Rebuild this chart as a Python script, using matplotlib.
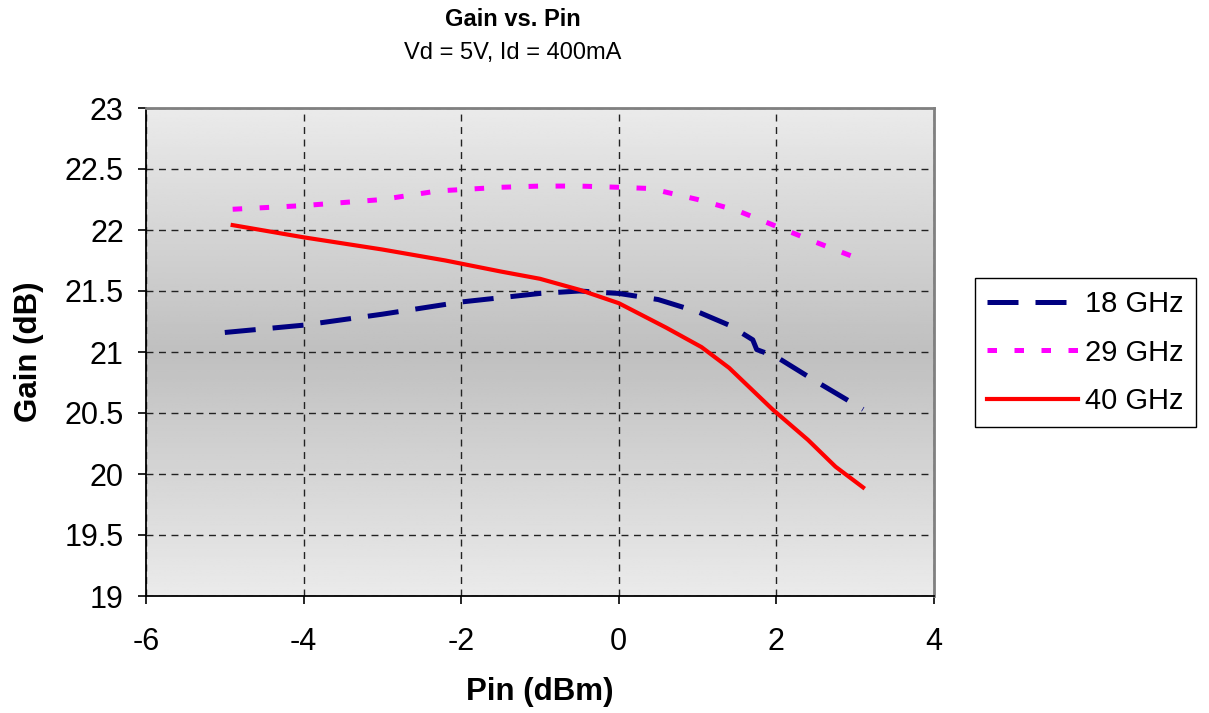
import matplotlib
matplotlib.use("Agg")
import matplotlib.pyplot as plt
import numpy as np

plt.rcParams["font.family"] = ["Liberation Sans", "DejaVu Sans"]
plt.rcParams["axes.unicode_minus"] = False

# data
pin_18 = [-5.0, -4.0, -3.0, -2.0, -1.0, -0.5, 0.0, 0.5, 1.0, 1.4, 1.7, 1.75, 2.0, 2.5, 3.1]
gain_18 = [21.16, 21.22, 21.31, 21.41, 21.48, 21.50, 21.48, 21.43, 21.33, 21.22, 21.10, 21.02, 20.96, 20.76, 20.53]

pin_29 = [-4.9, -4.0, -3.0, -2.3, -1.5, -1.0, -0.5, 0.0, 0.4, 1.0, 1.5, 2.0, 2.5, 3.1]
gain_29 = [22.17, 22.20, 22.25, 22.32, 22.35, 22.36, 22.36, 22.35, 22.34, 22.25, 22.16, 22.03, 21.90, 21.75]

pin_40 = [-4.9, -4.0, -3.0, -2.2, -1.5, -1.0, -0.5, 0.0, 0.6, 1.05, 1.4, 1.95, 2.4, 2.75, 3.1]
gain_40 = [22.04, 21.94, 21.84, 21.75, 21.66, 21.60, 21.51, 21.40, 21.20, 21.04, 20.87, 20.53, 20.28, 20.06, 19.89]

x_ticks = [-6, -4, -2, 0, 2, 4]
y_ticks = [19, 19.5, 20, 20.5, 21, 21.5, 22, 22.5, 23]
y_tick_labels = ["19", "19.5", "20", "20.5", "21", "21.5", "22", "22.5", "23"]

W, H = 1209, 713
fig = plt.figure(figsize=(W / 100, H / 100), dpi=100)
ax = fig.add_axes([146 / W, 1 - 596 / H, (934 - 146) / W, (596 - 108) / H])

# Excel-like centre-out grey gradient
t = np.linspace(-1, 1, 256)
shade = 0.75 + 0.17 * np.abs(t)
grad = np.tile(shade[:, None], (1, 2))
ax.imshow(grad, cmap="gray", vmin=0, vmax=1, aspect="auto",
          extent=[-6, 4, 19, 23], origin="lower", zorder=0)

ax.plot(pin_18, gain_18, color="#000080", lw=3.6, dashes=(6.2, 3.4),
        label="18 GHz", zorder=3)
ax.plot(pin_29, gain_29, color="#ff00ff", lw=3.6, dashes=(1.9, 3.5),
        label="29 GHz", zorder=3)
ax.plot(pin_40, gain_40, color="#ff0000", lw=3.0, label="40 GHz", zorder=3)

ax.set_xlim(-6, 4)
ax.set_ylim(19, 23)
ax.set_xticks(x_ticks)
ax.set_yticks(y_ticks)
ax.set_yticklabels(y_tick_labels)
ax.tick_params(axis="both", direction="out", length=6, width=1.2, labelsize=22)
ax.tick_params(axis="y", pad=10)
ax.tick_params(axis="x", pad=16)

ax.grid(True, color="#222222", lw=1.0, linestyle=(0, (5, 4)), zorder=1)
for line in ax.get_xgridlines() + ax.get_ygridlines():
    line.set_zorder(1)

for side in ["top", "right"]:
    ax.spines[side].set_color("#808080")
    ax.spines[side].set_linewidth(2)
for side in ["left", "bottom"]:
    ax.spines[side].set_color("black")
    ax.spines[side].set_linewidth(1.3)

ax.set_xlabel("Pin (dBm)", fontsize=22.5, fontweight="bold")
ax.set_ylabel("Gain (dB)", fontsize=22.5, fontweight="bold")
ax.xaxis.set_label_coords(0.5, (596 - 677) / 488)
ax.yaxis.set_label_coords((44 - 146) / 788, 0.5)

leg = ax.legend(loc="upper left", bbox_to_anchor=(975 / W, 1 - 278 / H),
                bbox_transform=fig.transFigure,
                fontsize=21, frameon=True, fancybox=False, framealpha=1,
                edgecolor="black", handlelength=3.1, handletextpad=0.24,
                labelspacing=0.7, borderpad=0.42, borderaxespad=0)
leg.get_frame().set_linewidth(1.0)

fig.text(513 / W, 1 - 20 / H, "Gain vs. Pin", ha="center", va="center",
         fontsize=17, fontweight="bold")
fig.text(513 / W, 1 - 53 / H, "Vd = 5V, Id = 400mA", ha="center",
         va="center", fontsize=17)

fig.savefig("out.png", dpi=100)
